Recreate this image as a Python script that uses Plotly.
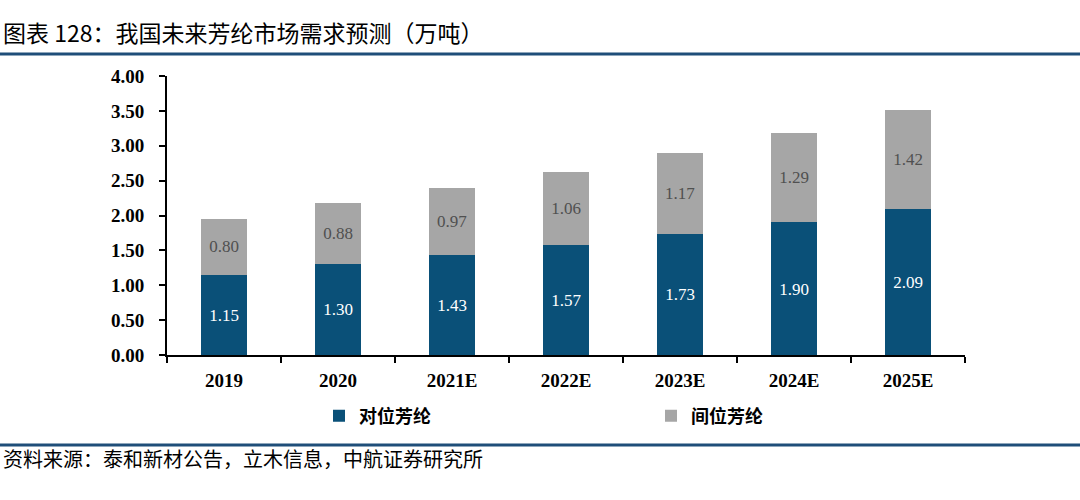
import plotly.graph_objects as go

categories = ["2019", "2020", "2021E", "2022E", "2023E", "2024E", "2025E"]
para_aramid = [1.15, 1.30, 1.43, 1.57, 1.73, 1.90, 2.09]
meta_aramid = [0.80, 0.88, 0.97, 1.06, 1.17, 1.29, 1.42]
series_names = ["对位芳纶", "间位芳纶"]
y_ticks = [0, 0.5, 1.0, 1.5, 2.0, 2.5, 3.0, 3.5, 4.0]
title_text = "图表 128：我国未来芳纶市场需求预测（万吨）"
source_text = "资料来源：泰和新材公告，立木信息，中航证券研究所"

W, H = 1080, 500
L, R, T, B = 167, 965, 76, 355


def px_x(x):
    return (x - L) / (R - L)


def px_y(y):
    return (B - y) / (B - T)


BLUE = "#0A5078"
GRAY = "#A6A6A6"
SERIF = "Liberation Serif, Times New Roman, serif"
CJK = "Noto Sans CJK SC"

fig = go.Figure()
fig.add_trace(go.Bar(
    x=categories, y=para_aramid, name=series_names[0],
    marker=dict(color=BLUE, line=dict(width=0)),
    text=[f"{v:.2f}" for v in para_aramid], textposition="inside",
    insidetextanchor="middle",
    textfont=dict(family=SERIF, size=19, color="white"),
))
fig.add_trace(go.Bar(
    x=categories, y=meta_aramid, name=series_names[1],
    marker=dict(color=GRAY, line=dict(width=0)),
    text=[f"{v:.2f}" for v in meta_aramid], textposition="inside",
    insidetextanchor="middle",
    textfont=dict(family=SERIF, size=17, color="#505050"),
))

fig.update_layout(
    width=W, height=H,
    barmode="stack", bargap=0.6,
    paper_bgcolor="white", plot_bgcolor="white",
    margin=dict(l=L, r=W - R, t=T, b=H - B, pad=0, autoexpand=False),
    showlegend=True,
    legend=dict(
        orientation="h", x=px_x(319), xanchor="left",
        y=px_y(416), yanchor="middle", traceorder="normal",
        entrywidth=287, entrywidthmode="pixels",
        font=dict(family=CJK, size=18, color="black", weight="bold"),
        bgcolor="rgba(0,0,0,0)", itemsizing="constant",
    ),
    xaxis=dict(
        showline=True, linecolor="black", linewidth=2,
        ticks="outside", tickson="boundaries", ticklen=6, tickwidth=2,
        tickcolor="black",
        tickfont=dict(family=SERIF, size=19, color="black", weight="bold"),
        showgrid=False, zeroline=False, ticklabelstandoff=7,
    ),
    yaxis=dict(
        range=[0, 4.0], tickvals=y_ticks,
        ticktext=[f"{v:.2f}" for v in y_ticks],
        showline=True, linecolor="black", linewidth=2,
        ticks="outside", ticklen=6, tickwidth=2, tickcolor="black",
        tickfont=dict(family=SERIF, size=19, color="black", weight="bold"),
        showgrid=False, zeroline=False, ticklabelstandoff=11,
    ),
    uniformtext=dict(mode="show", minsize=10),
)

fig.add_annotation(
    text=title_text, xref="paper", yref="paper",
    x=px_x(1), y=px_y(32), xanchor="left", yanchor="middle",
    showarrow=False, font=dict(family=CJK, size=23, color="black"),
)
fig.add_annotation(
    text=source_text, xref="paper", yref="paper",
    x=px_x(1), y=px_y(458), xanchor="left", yanchor="middle",
    showarrow=False, font=dict(family=CJK, size=20, color="black"),
)
for yy in (54, 445):
    fig.add_shape(
        type="line", xref="paper", yref="paper",
        x0=px_x(0), x1=px_x(W), y0=px_y(yy), y1=px_y(yy),
        line=dict(color="#1F4E79", width=3),
    )

fig.write_html("out.html", config={"displayModeBar": False},
               post_script="document.body.style.margin='0';")
